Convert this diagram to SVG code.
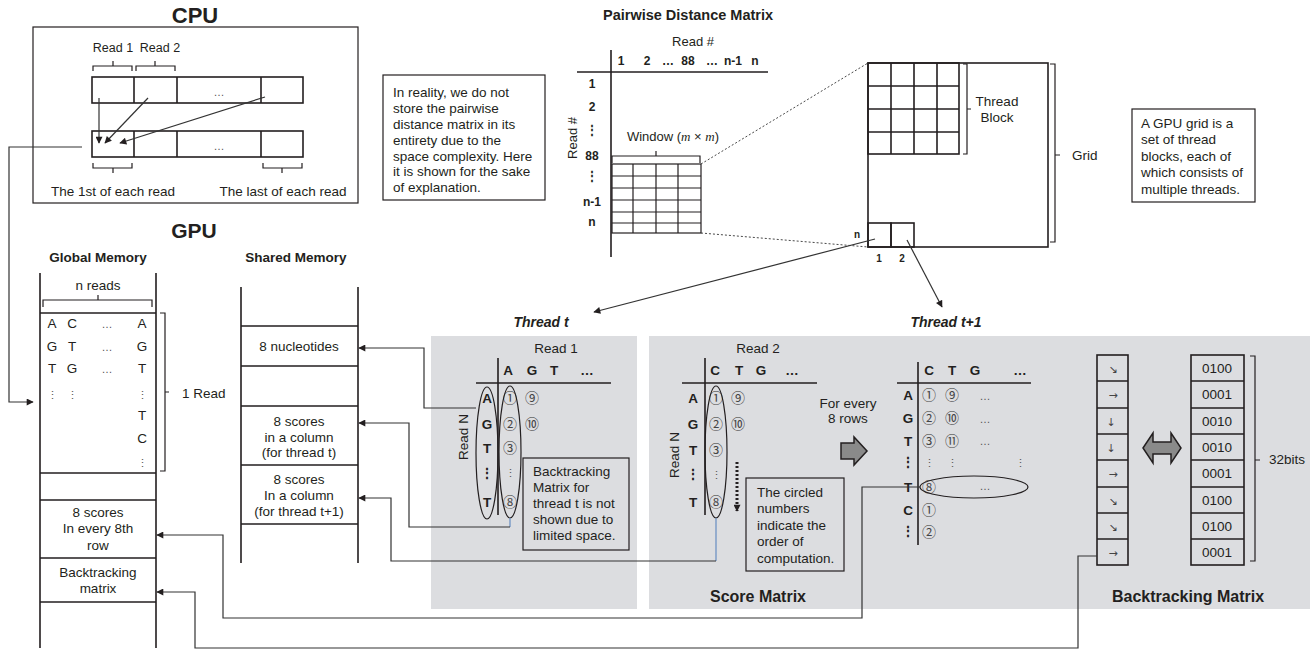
<svg xmlns="http://www.w3.org/2000/svg" width="1315" height="650" viewBox="0 0 1315 650">
<defs>
<marker id="ah" viewBox="0 0 10 10" refX="9" refY="5" markerWidth="8" markerHeight="7" markerUnits="userSpaceOnUse" orient="auto"><path d="M0,0 L10,5 L0,10 z" fill="#231f20"/></marker>
</defs>
<style>
text{font-family:"Liberation Sans",Arial,sans-serif;fill:#231f20;font-size:13.5px}
.b{font-weight:bold}
.m{text-anchor:middle}
.bi{font-weight:bold;font-style:italic;font-size:14px;text-anchor:middle}
.h12{font-size:12px;font-weight:bold;text-anchor:middle}
.L{font-size:13.5px;font-weight:bold;text-anchor:middle}
.ln{stroke:#231f20;stroke-width:1.2;fill:none}
.th{stroke:#231f20;stroke-width:1.6;fill:none}
.cn{stroke:#333;stroke-width:1.2;fill:none}
.blue{stroke:#6f93c4;stroke-width:1.3;fill:none}
.cir{font-family:"Noto Sans CJK JP","DejaVu Sans",sans-serif;font-size:14px;fill:#444;text-anchor:middle}
.dots{font-size:11px;fill:#555;text-anchor:middle}
.ar{font-family:"DejaVu Sans",sans-serif;font-size:11px;fill:#444;text-anchor:middle}
.panel{fill:#dcdde0}
.dash{stroke:#333;stroke-width:0.9;stroke-dasharray:2,2;fill:none}
</style>

<!-- gray panels -->
<rect class="panel" x="431" y="336" width="206" height="273"/>
<rect class="panel" x="649" y="336" width="661" height="273"/>

<g id="cpu">
<text x="195" y="23" class="b m" style="font-size:22px">CPU</text>
<rect x="33" y="27" width="325" height="176" class="ln"/>
<rect x="92" y="77" width="211" height="26" class="th"/>
<path d="M134,77V103M177,77V103M261,77V103" class="th"/>
<rect x="92" y="131" width="211" height="26" class="th"/>
<path d="M134,131V157M177,131V157M261,131V157" class="th"/>
<text x="219" y="96" class="dots">…</text>
<text x="219" y="150" class="dots">…</text>
<path d="M93,71V66H132V71M113,66V61M136,71V66H175V71M155,66V61" class="ln"/>
<text x="113" y="52" class="m" style="font-size:12.5px">Read 1</text>
<text x="160" y="52" class="m" style="font-size:12.5px">Read 2</text>
<path d="M93,163V168H132V163M113,168V173M263,163V168H302V163M282,168V173" class="ln"/>
<text x="113" y="196" class="m">The 1st of each read</text>
<text x="283" y="196" class="m">The last of each read</text>
</g>

<g id="note-reality">
<rect x="383" y="75" width="162" height="125" class="ln"/>
<text x="393" y="97">In reality, we do not</text>
<text x="393" y="113">store the pairwise</text>
<text x="393" y="129">distance matrix in its</text>
<text x="393" y="145">entirety due to the</text>
<text x="393" y="161">space complexity. Here</text>
<text x="393" y="176">it is shown for the sake</text>
<text x="393" y="192">of explanation.</text>
</g>

<g id="pairwise-matrix">
<text x="688" y="20" class="b m" style="font-size:14.5px">Pairwise Distance Matrix</text>
<text x="693" y="46" class="m" style="font-size:13px">Read #</text>
<path d="M611,50V257M577,72H768" class="th"/>
<text x="621" y="65" class="h12">1</text>
<text x="647" y="65" class="h12">2</text>
<text x="668" y="65" class="h12">…</text>
<text x="688" y="65" class="h12">88</text>
<text x="712" y="65" class="h12">…</text>
<text x="733" y="65" class="h12">n-1</text>
<text x="755" y="65" class="h12">n</text>
<text x="592" y="88" class="h12">1</text>
<text x="592" y="111" class="h12">2</text>
<text x="592" y="134" class="h12">⋮</text>
<text x="592" y="160" class="h12">88</text>
<text x="592" y="180" class="h12">⋮</text>
<text x="592" y="206" class="h12">n-1</text>
<text x="592" y="226" class="h12">n</text>
<text transform="translate(577,138) rotate(-90)" class="m" style="font-size:13px">Read #</text>
<text x="673" y="141" class="m" style="font-size:13px">Window (<tspan font-family="Liberation Serif" font-style="italic">m</tspan> × <tspan font-family="Liberation Serif" font-style="italic">m</tspan>)</text>
<path d="M612,163V156H700V163M656,156V151" class="ln"/>
<rect x="612" y="164" width="89" height="69" class="ln"/>
<path d="M633,164V233M656,164V233M678,164V233M612,176H701M612,188H701M612,200H701M612,212H701M612,223H701" class="ln"/>
<path d="M701,164L868,63M701,233L868,247" class="dash"/>
</g>

<g id="grid">
<rect x="868" y="63" width="180" height="184" class="th"/>
<rect x="868" y="63" width="91" height="91" class="th"/>
<path d="M891,63V154M914,63V154M937,63V154M868,86H959M868,109H959M868,132H959" class="th"/>
<path d="M963,64H967V154H963M967,109H971" class="ln"/>
<text x="997" y="106" class="m">Thread</text>
<text x="997" y="122" class="m">Block</text>
<path d="M1050,64H1055V242H1050M1055,155H1060" class="ln"/>
<text x="1072" y="160">Grid</text>
<rect x="868" y="223" width="23" height="24" class="th"/>
<rect x="891" y="223" width="23" height="24" class="th"/>
<text x="857" y="238" class="b m" style="font-size:10px">n</text>
<text x="879" y="262" class="b m" style="font-size:10px">1</text>
<text x="902" y="262" class="b m" style="font-size:10px">2</text>
</g>

<g id="note-grid">
<rect x="1132" y="109" width="123" height="93" class="ln"/>
<text x="1141" y="128">A GPU grid is a</text>
<text x="1141" y="144">set of thread</text>
<text x="1141" y="161">blocks, each of</text>
<text x="1141" y="177">which consists of</text>
<text x="1141" y="194">multiple threads.</text>
</g>

<g id="global-memory">
<text x="194" y="238" class="b m" style="font-size:21px">GPU</text>
<text x="98" y="262" class="b m" style="font-size:13.5px">Global Memory</text>
<path d="M40,273V648M156,273V648" class="th"/>
<text x="98" y="290" class="m">n reads</text>
<path d="M43,307V300H152V307M98,300V295" class="ln"/>
<path d="M40,313H156M40,473H156M40,500H156M40,558H156M40,602H156" class="th"/>
<text x="52" y="328" class="m">A</text><text x="72" y="328" class="m">C</text><text x="107" y="328" class="dots">…</text><text x="142" y="328" class="m">A</text>
<text x="52" y="351" class="m">G</text><text x="72" y="351" class="m">T</text><text x="107" y="351" class="dots">…</text><text x="142" y="351" class="m">G</text>
<text x="52" y="373" class="m">T</text><text x="72" y="373" class="m">G</text><text x="107" y="373" class="dots">…</text><text x="142" y="373" class="m">T</text>
<text x="52" y="399" class="dots">⋮</text><text x="72" y="399" class="dots">⋮</text><text x="142" y="399" class="dots">⋮</text>
<text x="142" y="420" class="m">T</text>
<text x="142" y="443" class="m">C</text>
<text x="142" y="467" class="dots">⋮</text>
<path d="M160,313H165V471H160M165,392H169" class="ln"/>
<text x="182" y="398">1 Read</text>
<text x="98" y="517" class="m">8 scores</text>
<text x="98" y="533" class="m">In every 8th</text>
<text x="98" y="550" class="m">row</text>
<text x="98" y="577" class="m">Backtracking</text>
<text x="98" y="593" class="m">matrix</text>
</g>

<g id="shared-memory">
<text x="296" y="262" class="b m" style="font-size:13.5px">Shared Memory</text>
<path d="M241,287V563M358,287V563" class="th"/>
<path d="M241,326H358M241,366H358M241,406H358M241,465H358M241,524H358" class="th"/>
<text x="299" y="351" class="m">8 nucleotides</text>
<text x="299" y="426" class="m">8 scores</text>
<text x="299" y="442" class="m">in a column</text>
<text x="299" y="457" class="m">(for thread t)</text>
<text x="299" y="484" class="m">8 scores</text>
<text x="299" y="500" class="m">In a column</text>
<text x="299" y="516" class="m">(for thread t+1)</text>
</g>

<g id="thread-t">
<text x="541" y="327" class="bi">Thread t</text>
<text x="556" y="353" class="m">Read 1</text>
<path d="M498,358V515M476,383H611" class="th"/>
<text x="508" y="375" class="L">A</text><text x="532" y="375" class="L">G</text><text x="554" y="375" class="L">T</text><text x="587" y="375" class="L">…</text>
<text x="487" y="403" class="L">A</text>
<text x="487" y="429" class="L">G</text>
<text x="487" y="453" class="L">T</text>
<text x="487" y="478" class="L">⋮</text>
<text x="487" y="507" class="L">T</text>
<ellipse cx="487" cy="453" rx="11" ry="66" class="ln"/>
<text x="510" y="403" class="cir">①</text>
<text x="510" y="429" class="cir">②</text>
<text x="510" y="453" class="cir">③</text>
<text x="510" y="477" class="dots">⋮</text>
<text x="510" y="507" class="cir">⑧</text>
<ellipse cx="510" cy="452" rx="11" ry="66" class="ln"/>
<text x="532" y="403" class="cir">⑨</text>
<text x="532" y="429" class="cir">⑩</text>
<text transform="translate(468,437) rotate(-90)" class="m">Read N</text>
<rect x="523" y="458" width="106" height="92" class="ln"/>
<text x="533" y="476">Backtracking</text>
<text x="533" y="492">Matrix for</text>
<text x="533" y="508">thread t is not</text>
<text x="533" y="524">shown due to</text>
<text x="533" y="540">limited space.</text>
</g>

<g id="score-matrix">
<text x="758" y="353" class="m">Read 2</text>
<path d="M705,358V515M682,383H817" class="th"/>
<text x="715" y="375" class="L">C</text><text x="739" y="375" class="L">T</text><text x="761" y="375" class="L">G</text><text x="792" y="375" class="L">…</text>
<text x="693" y="403" class="L">A</text>
<text x="693" y="429" class="L">G</text>
<text x="693" y="455" class="L">T</text>
<text x="693" y="479" class="L">⋮</text>
<text x="693" y="507" class="L">T</text>
<text transform="translate(679,455) rotate(-90)" class="m">Read N</text>
<text x="716" y="403" class="cir">①</text>
<text x="716" y="429" class="cir">②</text>
<text x="716" y="455" class="cir">③</text>
<text x="716" y="479" class="dots">⋮</text>
<text x="716" y="507" class="cir">⑧</text>
<ellipse cx="716" cy="452" rx="11" ry="66" class="ln"/>
<text x="738" y="403" class="cir">⑨</text>
<text x="738" y="429" class="cir">⑩</text>
<line x1="737" y1="462" x2="737" y2="511" stroke="#231f20" stroke-width="3" stroke-dasharray="2,2" marker-end="url(#ah)"/>
<rect x="746" y="478" width="98" height="93" class="ln"/>
<text x="757" y="497">The circled</text>
<text x="757" y="513">numbers</text>
<text x="757" y="530">indicate the</text>
<text x="757" y="546">order of</text>
<text x="757" y="563">computation.</text>
<text x="848" y="408" class="m">For every</text>
<text x="848" y="423" class="m">8 rows</text>
<polygon points="841,443 854,443 854,437 867,451 854,465 854,459 841,459" fill="#8a8a8a" stroke="#231f20" stroke-width="1.5"/>
<text x="758" y="602" class="b m" style="font-size:16px">Score Matrix</text>
</g>

<g id="thread-t1">
<text x="946" y="327" class="bi">Thread t+1</text>
<path d="M918,362V545M897,383H1031" class="th"/>
<text x="929" y="375" class="L">C</text><text x="952" y="375" class="L">T</text><text x="975" y="375" class="L">G</text><text x="1020" y="375" class="L">…</text>
<text x="908" y="400" class="L">A</text>
<text x="908" y="423" class="L">G</text>
<text x="908" y="446" class="L">T</text>
<text x="908" y="467" class="L">⋮</text>
<text x="908" y="492" class="L">T</text>
<text x="908" y="515" class="L">C</text>
<text x="908" y="536" class="L">⋮</text>
<text x="929" y="400" class="cir">①</text>
<text x="929" y="423" class="cir">②</text>
<text x="929" y="446" class="cir">③</text>
<text x="929" y="467" class="dots">⋮</text>
<text x="929" y="492" class="cir">⑧</text>
<text x="929" y="515" class="cir">①</text>
<text x="929" y="537" class="cir">②</text>
<text x="952" y="400" class="cir">⑨</text>
<text x="952" y="423" class="cir">⑩</text>
<text x="952" y="446" class="cir">⑪</text>
<text x="952" y="467" class="dots">⋮</text>
<text x="985" y="400" class="dots">…</text>
<text x="985" y="423" class="dots">…</text>
<text x="985" y="445" class="dots">…</text>
<text x="985" y="490" class="dots">…</text>
<text x="1020" y="467" class="dots">⋮</text>
<ellipse cx="974" cy="487" rx="54" ry="11" class="ln"/>
</g>

<g id="backtracking-matrix">
<rect x="1097" y="355" width="31" height="210" class="th"/>
<path d="M1097,381H1128M1097,408H1128M1097,434H1128M1097,460H1128M1097,487H1128M1097,513H1128M1097,539H1128" class="th"/>
<text x="1113" y="373" class="ar">↘</text>
<text x="1113" y="399" class="ar">→</text>
<text x="1111" y="426" class="ar">↓</text>
<text x="1111" y="452" class="ar">↓</text>
<text x="1113" y="478" class="ar">→</text>
<text x="1113" y="505" class="ar">↘</text>
<text x="1113" y="531" class="ar">↘</text>
<text x="1113" y="557" class="ar">→</text>
<polygon points="1143,448 1153,433 1153,442 1171,442 1171,433 1181,448 1171,463 1171,454 1153,454 1153,463" fill="#8a8a8a" stroke="#231f20" stroke-width="1.5"/>
<rect x="1191" y="355" width="53" height="210" class="th"/>
<path d="M1191,381H1244M1191,408H1244M1191,434H1244M1191,460H1244M1191,487H1244M1191,513H1244M1191,539H1244" class="th"/>
<text x="1217" y="373" class="m">0100</text>
<text x="1217" y="399" class="m">0001</text>
<text x="1217" y="426" class="m">0010</text>
<text x="1217" y="452" class="m">0010</text>
<text x="1217" y="478" class="m">0001</text>
<text x="1217" y="505" class="m">0100</text>
<text x="1217" y="531" class="m">0100</text>
<text x="1217" y="557" class="m">0001</text>
<path d="M1250,356H1255V561H1250M1255,460H1260" class="ln"/>
<text x="1269" y="464">32bits</text>
<text x="1188" y="602" class="b m" style="font-size:16px">Backtracking Matrix</text>
</g>

<g id="connectors">
<line x1="99" y1="98" x2="99" y2="143" class="cn" marker-end="url(#ah)"/>
<line x1="148" y1="98" x2="105" y2="143" class="cn" marker-end="url(#ah)"/>
<line x1="265" y1="97" x2="120" y2="143" class="cn" marker-end="url(#ah)"/>
<polyline points="82,147 9,147 9,402 33,402" class="cn" marker-end="url(#ah)"/>
<line x1="875" y1="239" x2="594" y2="312" class="cn" marker-end="url(#ah)"/>
<line x1="907" y1="240" x2="942" y2="307" class="cn" marker-end="url(#ah)"/>
<polyline points="476,408 424,408 424,348 359,348" class="cn" marker-end="url(#ah)"/>
<line x1="510" y1="518" x2="510" y2="527" class="blue"/>
<polyline points="510,527 409,527 409,423 359,423" class="cn" marker-end="url(#ah)"/>
<line x1="716" y1="518" x2="716" y2="561" class="blue"/>
<polyline points="716,561 391,561 391,498 359,498" class="cn" marker-end="url(#ah)"/>
<polyline points="920,487 862,487 862,618 223,618 223,535 157,535" class="cn" marker-end="url(#ah)"/>
<polyline points="1097,556 1078,556 1078,648 195,648 195,592 157,592" class="cn" marker-end="url(#ah)"/>
</g>
</svg>
